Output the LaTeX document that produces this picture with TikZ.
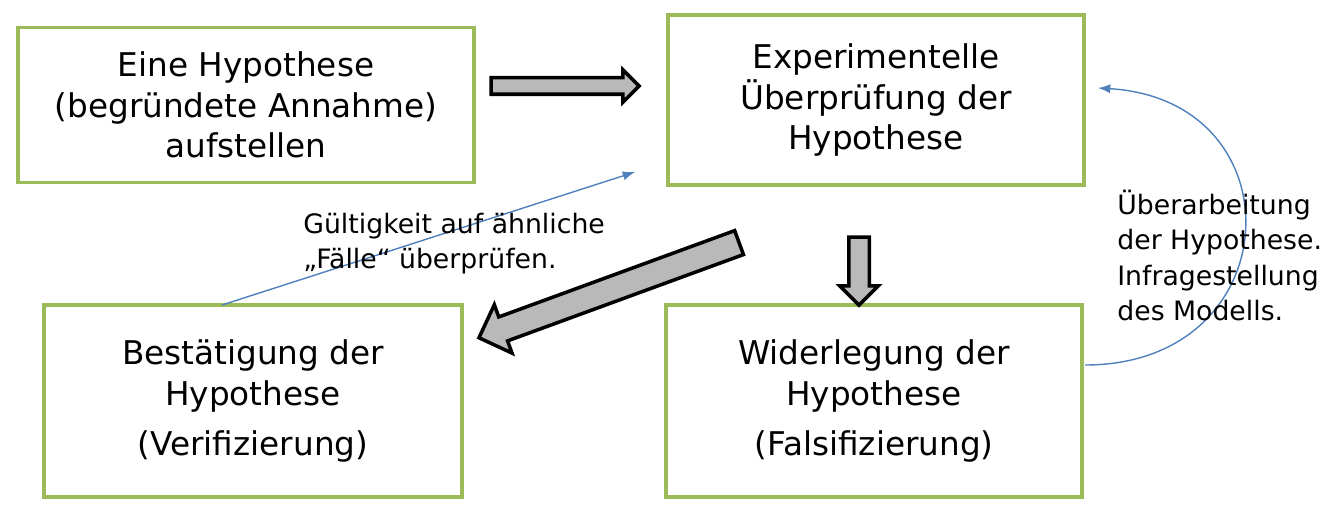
\documentclass[tikz,border=0pt]{standalone}
\usepackage{fontspec}
\setmainfont{DejaVu Sans}
\usetikzlibrary{shapes.arrows,arrows.meta}
\definecolor{boxgreen}{HTML}{9BBB59}
\definecolor{linkblue}{HTML}{4F81BD}
\tikzstyle{stage}=[draw=boxgreen,line width=2.2pt,align=center,font=\fontsize{18.6}{23}\selectfont]
\tikzstyle{fat}=[single arrow,draw=black,line width=2pt,fill=gray!55,inner sep=0pt]
\tikzstyle{note}=[align=left,font=\fontsize{15.2}{20}\selectfont,inner sep=0pt]

\begin{document}
\begin{tikzpicture}[x=0.02cm,y=-0.02cm]
  \useasboundingbox (0,0) rectangle (1344,520);

  \node[stage,minimum width=9.12cm,minimum height=3.1cm] (hyp) at (246,105)
    {Eine Hypothese\\(begründete Annahme)\\aufstellen};
  \node[stage,minimum width=8.32cm,minimum height=3.4cm] (exp) at (876,100)
    {Experimentelle\\Überprüfung der\\Hypothese};
  \node[stage,minimum width=8.36cm,minimum height=3.84cm] (ver) at (253,401)
    {Bestätigung der\\Hypothese\\[2mm](Verifizierung)};
  \node[stage,minimum width=8.32cm,minimum height=3.84cm] (fal) at (874,401)
    {Widerlegung der\\Hypothese\\[2mm](Falsifizierung)};

  % fat arrows
  \node[fat,minimum height=2.96cm,single arrow head extend=0.16cm] (a1) at (561,86) {\rule{0pt}{0.26cm}};
  \node[fat,minimum height=1.36cm,single arrow head extend=0.18cm,rotate=-90] (a2) at (859,266) {\rule{0pt}{0.34cm}};
  \node[fat,minimum height=5.54cm,single arrow head extend=0.26cm,rotate=200.1] (a3) at (615,288) {\rule{0pt}{0.44cm}};

  % thin links
  \coordinate (s1) at (222,305);
  \coordinate (t1) at (635,172);
  \coordinate (s2) at (1085,365);
  \coordinate (t2) at (1098,88);
  \draw[linkblue,thick,-{Latex[length=7pt]}] (s1) -- (t1);
  \draw[linkblue,thick,-{Latex[length=7pt]}] (s2) .. controls (1290,365) and (1300,100) .. (t2);

  \node[note,anchor=north west] (n1) at (303,213) {Gültigkeit auf ähnliche\\„Fälle“ überprüfen.};
  \node[note,anchor=north west] (n2) at (1117,190) {Überarbeitung\\der Hypothese.\\Infragestellung\\des Modells.};
\end{tikzpicture}
\end{document}
